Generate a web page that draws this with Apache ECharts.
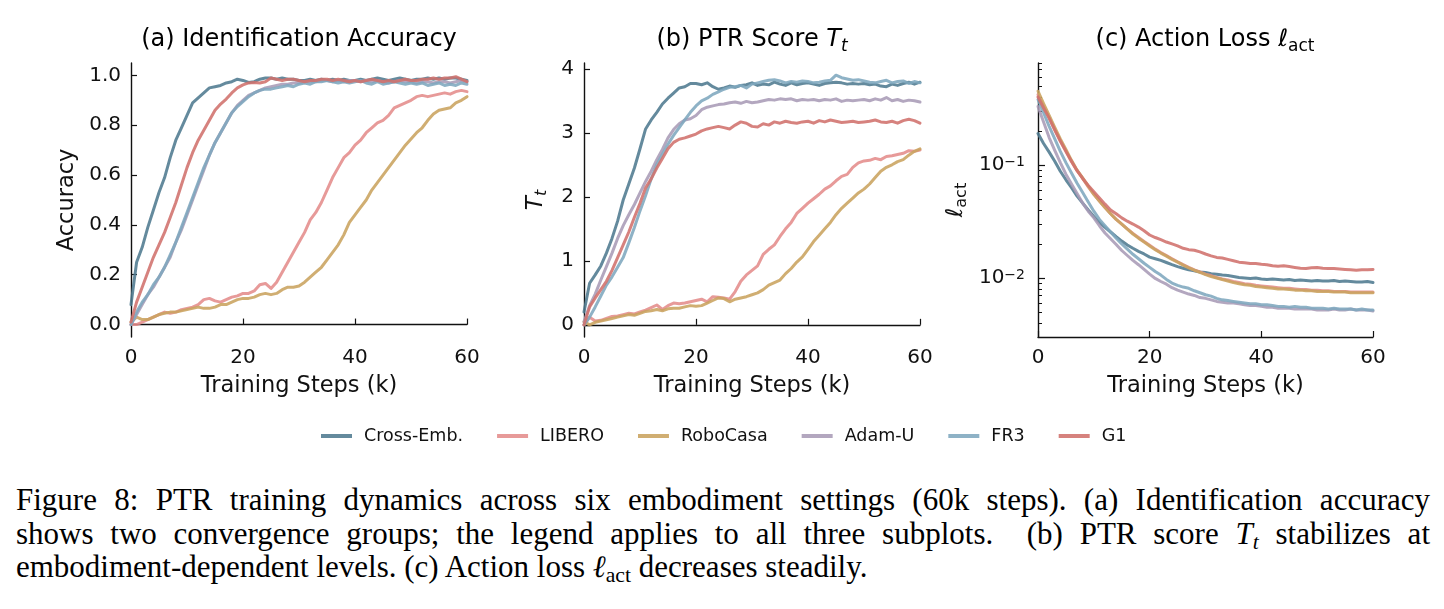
<!DOCTYPE html>
<html>
<head>
<meta charset="utf-8">
<title>PTR training dynamics</title>
<script src="https://cdn.jsdelivr.net/npm/echarts@6/dist/echarts.min.js"></script>
<style>
  html, body { margin: 0; padding: 0; background: #fff; }
  #wrap { position: relative; width: 1444px; height: 609px; overflow: hidden; }
  #chart { position: absolute; left: 0; top: 0; width: 1444px; height: 470px; }
  .cap { position: absolute; left: 16px; width: 1414px; font-family: "Liberation Serif", serif;
         font-size: 31px; line-height: 33.5px; color: #000; white-space: nowrap; }
  .just { text-align: justify; text-align-last: justify; }
  .cap sub { font-size: 70%; vertical-align: -0.25em; line-height: 0; }
</style>
</head>
<body>
<div id="wrap">
  <div id="chart"></div>
  <div class="cap just" style="top:483px">Figure 8: PTR training dynamics across six embodiment settings (60k steps). (a) Identification accuracy</div>
  <div class="cap just" style="top:517px">shows two convergence groups; the legend applies to all three subplots.&nbsp; (b) PTR score <i>T<sub>t</sub></i> stabilizes at</div>
  <div class="cap" style="top:550px">embodiment-dependent levels. (c) Action loss <i>ℓ</i><sub>act</sub> decreases steadily.</div>
</div>
<script>
// training steps (k)
var steps = [0,1,2,3,4,5,6,7,8,9,10,11,12,13,14,15,16,17,18,19,20,21,22,23,24,25,26,27,28,29,30,
  31,32,33,34,35,36,37,38,39,40,41,42,43,44,45,46,47,48,49,50,51,52,53,54,55,56,57,58,59,60];
var names = ['Cross-Emb.', 'LIBERO', 'RoboCasa', 'Adam-U', 'FR3', 'G1'];
var colors = ['#4f7a8f', '#e48c8b', '#c9a35e', '#a99bb6', '#7ea7be', '#d0716c'];

// (a) identification accuracy
var accCross = [0.08,0.25,0.31,0.39,0.46,0.53,0.59,0.67,0.74,0.79,0.84,0.89,0.91,0.93,0.95,0.955,0.96,0.97,0.975,0.985,0.98,
  0.972,0.975,0.985,0.99,0.99,0.985,0.99,0.985,0.985,0.98,0.98,0.985,0.98,0.985,0.98,0.985,0.98,0.985,0.98,0.98,
  0.985,0.98,0.985,0.99,0.985,0.98,0.985,0.99,0.985,0.98,0.985,0.985,0.99,0.985,0.99,0.985,0.99,0.99,0.985,0.98];
var accLibero = [0,0,0.01,0.02,0.03,0.04,0.05,0.045,0.05,0.06,0.065,0.07,0.08,0.1,0.105,0.095,0.09,0.1,0.11,0.115,0.125,
  0.125,0.135,0.16,0.165,0.145,0.17,0.21,0.25,0.29,0.33,0.37,0.42,0.45,0.49,0.54,0.59,0.63,0.67,0.69,0.72,
  0.74,0.77,0.79,0.81,0.82,0.84,0.87,0.88,0.89,0.9,0.915,0.92,0.915,0.92,0.925,0.93,0.925,0.935,0.94,0.935];
var accRobo = [0.01,0.03,0.02,0.02,0.03,0.04,0.045,0.05,0.05,0.055,0.06,0.065,0.07,0.065,0.065,0.07,0.08,0.08,0.09,0.1,0.105,
  0.105,0.11,0.12,0.125,0.12,0.125,0.14,0.15,0.15,0.155,0.17,0.19,0.21,0.23,0.26,0.29,0.32,0.36,0.41,0.44,
  0.47,0.5,0.54,0.57,0.6,0.63,0.66,0.69,0.72,0.745,0.77,0.79,0.82,0.845,0.86,0.865,0.87,0.89,0.9,0.915];
var accAdam = [0,0.04,0.08,0.12,0.15,0.19,0.23,0.27,0.33,0.38,0.44,0.5,0.56,0.62,0.68,0.73,0.77,0.81,0.85,0.88,0.9,
  0.92,0.93,0.94,0.95,0.955,0.96,0.965,0.965,0.97,0.97,0.975,0.975,0.975,0.98,0.98,0.975,0.98,0.975,0.98,0.98,
  0.975,0.98,0.975,0.98,0.975,0.97,0.975,0.98,0.975,0.975,0.97,0.975,0.975,0.97,0.975,0.975,0.97,0.975,0.98,0.975];
var accFr3 = [0,0.05,0.09,0.12,0.16,0.19,0.23,0.28,0.33,0.39,0.45,0.51,0.57,0.63,0.68,0.73,0.77,0.81,0.85,0.875,0.895,
  0.915,0.93,0.94,0.945,0.945,0.95,0.955,0.96,0.955,0.965,0.97,0.965,0.975,0.975,0.98,0.975,0.97,0.975,0.97,0.975,
  0.98,0.97,0.965,0.975,0.965,0.97,0.975,0.97,0.965,0.97,0.965,0.97,0.96,0.965,0.97,0.96,0.965,0.96,0.97,0.965];
var accG1 = [0.01,0.09,0.15,0.21,0.27,0.32,0.37,0.43,0.49,0.56,0.63,0.69,0.74,0.78,0.82,0.86,0.885,0.905,0.93,0.95,0.962,
  0.97,0.972,0.97,0.975,0.99,0.985,0.98,0.985,0.985,0.98,0.975,0.98,0.98,0.985,0.985,0.98,0.985,0.98,0.975,0.98,
  0.975,0.98,0.985,0.98,0.975,0.98,0.975,0.98,0.985,0.98,0.98,0.985,0.985,0.99,0.985,0.99,0.99,0.995,0.985,0.975];

// (b) PTR score T_t
var ptrCross = [0.2,0.65,0.78,0.92,1.12,1.35,1.62,1.95,2.2,2.45,2.75,3.06,3.2,3.32,3.45,3.54,3.62,3.7,3.72,3.77,3.77,
  3.75,3.78,3.72,3.68,3.7,3.73,3.71,3.74,3.75,3.78,3.74,3.76,3.75,3.79,3.76,3.74,3.78,3.75,3.77,3.78,
  3.76,3.74,3.77,3.78,3.79,3.78,3.76,3.77,3.76,3.77,3.75,3.76,3.73,3.72,3.76,3.74,3.77,3.79,3.76,3.79];
var ptrLibero = [0,0.12,0.06,0.07,0.1,0.13,0.14,0.16,0.18,0.17,0.2,0.23,0.27,0.31,0.24,0.3,0.34,0.33,0.34,0.36,0.38,
  0.4,0.36,0.44,0.43,0.42,0.4,0.52,0.68,0.78,0.85,0.92,1.1,1.18,1.25,1.38,1.5,1.6,1.74,1.82,1.9,
  1.97,2.04,2.12,2.17,2.25,2.32,2.35,2.46,2.53,2.56,2.57,2.6,2.58,2.63,2.64,2.66,2.68,2.72,2.71,2.73];
var ptrRobo = [0.05,0,0.04,0.06,0.08,0.1,0.12,0.14,0.16,0.15,0.18,0.21,0.22,0.24,0.22,0.25,0.26,0.26,0.28,0.3,0.29,
  0.3,0.34,0.38,0.42,0.41,0.36,0.4,0.42,0.44,0.47,0.5,0.55,0.62,0.66,0.7,0.8,0.88,0.98,1.06,1.18,
  1.3,1.4,1.5,1.6,1.72,1.82,1.9,1.98,2.06,2.12,2.2,2.3,2.4,2.46,2.5,2.55,2.58,2.65,2.71,2.75];
var ptrAdam = [0.05,0.3,0.48,0.7,0.91,1.12,1.35,1.55,1.72,1.88,2.06,2.24,2.4,2.58,2.74,2.92,3.05,3.14,3.2,3.22,3.27,
  3.36,3.4,3.42,3.44,3.45,3.47,3.48,3.46,3.49,3.47,3.48,3.5,3.52,3.51,3.53,3.52,3.53,3.5,3.52,3.51,
  3.52,3.5,3.52,3.51,3.53,3.49,3.51,3.5,3.51,3.52,3.5,3.53,3.51,3.55,3.5,3.52,3.49,3.51,3.5,3.48];
var ptrFr3 = [0,0.12,0.28,0.45,0.62,0.75,0.9,1.05,1.28,1.52,1.78,2.02,2.28,2.5,2.66,2.82,2.96,3.08,3.2,3.32,3.42,
  3.5,3.54,3.6,3.64,3.68,3.71,3.72,3.74,3.7,3.76,3.78,3.8,3.82,3.83,3.81,3.78,3.8,3.79,3.81,3.8,
  3.78,3.79,3.81,3.82,3.9,3.86,3.84,3.82,3.83,3.81,3.79,3.78,3.8,3.82,3.78,3.8,3.81,3.77,3.8,3.78];
var ptrG1 = [0,0.28,0.42,0.55,0.68,0.85,1.05,1.25,1.45,1.68,1.9,2.14,2.28,2.45,2.6,2.75,2.85,2.9,2.92,2.95,2.98,
  3.03,3.06,3.08,3.1,3.08,3.06,3.12,3.17,3.15,3.1,3.09,3.14,3.12,3.17,3.15,3.18,3.16,3.15,3.17,3.18,
  3.15,3.19,3.17,3.2,3.18,3.16,3.17,3.18,3.16,3.17,3.18,3.2,3.17,3.16,3.18,3.15,3.19,3.21,3.19,3.15];

// (c) action loss l_act
var lossCross = [0.19,0.155,0.13,0.108,0.088,0.074,0.063,0.053,0.046,0.04,0.035,0.031,0.028,0.0255,0.0232,0.0212,0.0196,0.0183,0.0172,0.0163,0.0153,
  0.0148,0.0143,0.0137,0.0131,0.0126,0.0122,0.0118,0.0116,0.0113,0.0112,0.0109,0.0108,0.0106,0.0105,0.0103,0.0101,0.01,0.0099,0.01,0.0098,
  0.0097,0.0098,0.0097,0.0096,0.0097,0.0095,0.0096,0.0095,0.0094,0.0095,0.0094,0.0094,0.0095,0.0093,0.0094,0.0093,0.0092,0.0092,0.0093,0.0091];
var lossLibero = [0.42,0.33,0.26,0.205,0.163,0.132,0.107,0.089,0.076,0.064,0.055,0.048,0.042,0.037,0.033,0.03,0.0272,0.0248,0.0228,0.021,0.0195,
  0.018,0.0168,0.0158,0.0148,0.0139,0.0131,0.0124,0.0118,0.0113,0.0108,0.0105,0.0101,0.0098,0.0096,0.0093,0.0091,0.0089,0.0088,0.0086,0.0085,
  0.0084,0.0083,0.0082,0.0081,0.0081,0.008,0.0079,0.0079,0.0078,0.0078,0.0077,0.0077,0.0076,0.0076,0.0076,0.0075,0.0075,0.0075,0.0075,0.0075];
var lossRobo = [0.45,0.35,0.275,0.215,0.17,0.137,0.11,0.09,0.077,0.065,0.055,0.048,0.042,0.037,0.033,0.03,0.027,0.0245,0.0225,0.0208,0.0192,
  0.0178,0.0166,0.0156,0.0146,0.0138,0.013,0.0123,0.0117,0.0112,0.0107,0.0103,0.01,0.0097,0.0094,0.0091,0.0089,0.0087,0.0086,0.0084,0.0083,
  0.0082,0.0081,0.008,0.008,0.0079,0.0078,0.0078,0.0077,0.0077,0.0076,0.0076,0.0076,0.0075,0.0075,0.0075,0.0074,0.0074,0.0074,0.0074,0.0074];
var lossAdam = [0.33,0.24,0.175,0.135,0.105,0.083,0.068,0.056,0.046,0.039,0.034,0.029,0.025,0.0222,0.0198,0.0175,0.0158,0.0143,0.0131,0.0119,0.0108,
  0.0099,0.0093,0.0088,0.0082,0.0078,0.0075,0.0072,0.007,0.0067,0.0066,0.0064,0.0062,0.0061,0.006,0.006,0.0059,0.0058,0.0057,0.0057,0.0056,
  0.0055,0.0055,0.0054,0.0054,0.0054,0.0053,0.0053,0.0053,0.0053,0.0052,0.0052,0.0052,0.0053,0.0052,0.0052,0.0053,0.0052,0.0052,0.0052,0.0051];
var lossFr3 = [0.38,0.29,0.22,0.17,0.132,0.105,0.085,0.069,0.057,0.047,0.039,0.033,0.029,0.0255,0.0225,0.02,0.018,0.0162,0.0148,0.0135,0.0124,
  0.0114,0.0106,0.0097,0.009,0.0086,0.0083,0.0081,0.0077,0.0074,0.0071,0.0069,0.0066,0.0064,0.0063,0.0062,0.0061,0.006,0.0059,0.0059,0.0058,
  0.0058,0.0057,0.0056,0.0056,0.0055,0.0056,0.0055,0.0055,0.0054,0.0054,0.0054,0.0053,0.0054,0.0053,0.0053,0.0053,0.0052,0.0053,0.0052,0.0052];
var lossG1 = [0.4,0.32,0.26,0.205,0.163,0.132,0.108,0.089,0.076,0.066,0.058,0.051,0.045,0.04,0.037,0.034,0.0318,0.03,0.0282,0.0262,0.024,
  0.0228,0.0218,0.0208,0.02,0.0192,0.0183,0.0178,0.0176,0.017,0.0163,0.0157,0.0152,0.015,0.0146,0.0142,0.0138,0.0136,0.0134,0.0134,0.0132,
  0.0131,0.0128,0.0127,0.0128,0.0126,0.0124,0.0122,0.0121,0.0123,0.0124,0.0122,0.0121,0.0121,0.012,0.0119,0.0118,0.0117,0.0118,0.0118,0.0119];

// tick values
var stepTicks = [0, 20, 40, 60];
var accTicks = [0, 0.2, 0.4, 0.6, 0.8, 1.0];
var ptrTicks = [0, 1, 2, 3, 4];
var lossTicks = [0.01, 0.1];
var lossMinor = [0.003,0.004,0.005,0.006,0.007,0.008,0.009,0.02,0.03,0.04,0.05,0.06,0.07,0.08,0.09,0.2,0.3,0.4,0.5,0.6,0.7,0.8];

var panels = [
  [accCross, accLibero, accRobo, accAdam, accFr3, accG1],
  [ptrCross, ptrLibero, ptrRobo, ptrAdam, ptrFr3, ptrG1],
  [lossCross, lossLibero, lossRobo, lossAdam, lossFr3, lossG1]
];

var FONT = '"DejaVu Sans", sans-serif';
var INK = '#111';
var gridLefts = [131, 584, 1038];

function pairs(ys) {
  return steps.map(function (s, i) { return [s, ys[i]]; });
}

var chart = echarts.init(document.getElementById('chart'));

var grids = gridLefts.map(function (l, i) {
  return { left: l, top: 63, width: i === 2 ? 335 : 336, height: 274 };
});

var xAxes = [0, 1, 2].map(function (g) {
  return {
    type: 'value', gridIndex: g, min: 0, max: 60, interval: 20,
    name: 'Training Steps (k)', nameLocation: 'middle', nameGap: 38,
    nameTextStyle: { fontFamily: FONT, fontSize: 22.5, color: INK },
    axisLine: { lineStyle: { color: '#111', width: 1.4 } },
    axisTick: { inside: true, length: 6, customValues: stepTicks, lineStyle: { color: '#111', width: 1.2 } },
    axisLabel: { fontFamily: FONT, fontSize: 20, color: INK, margin: 11 },
    splitLine: { show: false }
  };
});

var yCommon = {
  position: 'left',
  axisLine: { show: true, lineStyle: { color: '#111', width: 1.4 } },
  splitLine: { show: false },
  nameLocation: 'middle'
};

var yAxes = [
  Object.assign({}, yCommon, {
    type: 'value', gridIndex: 0, min: -0.05, max: 1.05,
    name: 'Accuracy', nameGap: 52,
    nameTextStyle: { fontFamily: FONT, fontSize: 22.5, color: INK },
    axisTick: { inside: true, length: 6, customValues: accTicks, lineStyle: { color: '#111', width: 1.2 } },
    axisLabel: { customValues: accTicks, fontFamily: FONT, fontSize: 20, color: INK, margin: 10,
      formatter: function (v) { return v.toFixed(1); } }
  }),
  Object.assign({}, yCommon, {
    type: 'value', gridIndex: 1, min: -0.19, max: 4.09,
    name: '{it|T}{sub|t}', nameGap: 34,
    nameTextStyle: { fontFamily: FONT, color: INK, rich: {
      it: { fontFamily: FONT, fontSize: 23, fontStyle: 'italic', color: INK, lineHeight: 28, verticalAlign: 'middle' },
      sub: { fontFamily: FONT, fontSize: 16, fontStyle: 'italic', color: INK, lineHeight: 16, verticalAlign: 'bottom' }
    } },
    axisTick: { inside: true, length: 6, customValues: ptrTicks, lineStyle: { color: '#111', width: 1.2 } },
    axisLabel: { customValues: ptrTicks, fontFamily: FONT, fontSize: 20, color: INK, margin: 10 }
  }),
  Object.assign({}, yCommon, {
    type: 'log', logBase: 10, gridIndex: 2, min: 0.003, max: 0.8,
    name: '{it|ℓ}{sub|act}', nameGap: 68,
    nameTextStyle: { fontFamily: FONT, color: INK, rich: {
      it: { fontFamily: FONT, fontSize: 23, fontStyle: 'italic', color: INK, lineHeight: 28, verticalAlign: 'middle' },
      sub: { fontFamily: FONT, fontSize: 16, color: INK, lineHeight: 16, verticalAlign: 'bottom' }
    } },
    axisTick: { inside: true, length: 7, customValues: lossTicks, lineStyle: { color: '#111', width: 1.2 } },
    axisLabel: { customValues: lossTicks, color: INK, margin: 13,
      formatter: function (v) {
        var e = Math.round(Math.log(v) / Math.LN10);
        return '{b|10}{s|\u2212' + (-e) + '}';
      },
      rich: {
        b: { fontFamily: FONT, fontSize: 20, color: INK, lineHeight: 20, padding: [4, 0, 0, 0], verticalAlign: 'bottom' },
        s: { fontFamily: FONT, fontSize: 14, color: INK, lineHeight: 14, verticalAlign: 'top' }
      } }
  }),
  // minor ticks of the log axis, on the same left spine
  {
    type: 'log', logBase: 10, gridIndex: 2, min: 0.003, max: 0.8,
    position: 'left', offset: 0,
    axisLine: { show: false }, splitLine: { show: false },
    axisLabel: { show: false },
    axisTick: { inside: true, length: 4, customValues: lossMinor, lineStyle: { color: '#111', width: 1 } }
  }
];

var series = [];
panels.forEach(function (sets, p) {
  sets.forEach(function (ys, i) {
    series.push({
      name: names[i], type: 'line', xAxisIndex: p, yAxisIndex: p,
      data: pairs(ys), showSymbol: false, symbol: 'none', smooth: false,
      z: 2 + i,
      lineStyle: { color: colors[i], width: 3, opacity: 0.88, cap: 'round', join: 'round' },
      itemStyle: { color: colors[i], opacity: 0.88 }
    });
  });
});

var titleRich = {
  n: { fontFamily: FONT, fontSize: 24, color: INK, lineHeight: 30, verticalAlign: 'middle' },
  it: { fontFamily: FONT, fontSize: 24, fontStyle: 'italic', color: INK, lineHeight: 30, verticalAlign: 'middle' },
  sub: { fontFamily: FONT, fontSize: 17, fontStyle: 'italic', color: INK, lineHeight: 17, verticalAlign: 'bottom' },
  subr: { fontFamily: FONT, fontSize: 17, color: INK, lineHeight: 17, verticalAlign: 'bottom' }
};
var titles = [
  { x: 299, text: '{n|(a) Identification Accuracy}' },
  { x: 752, text: '{n|(b) PTR Score }{it|T}{sub|t}' },
  { x: 1205, text: '{n|(c) Action Loss }{it|ℓ}{subr|act}' }
];

var option = {
  animation: false,
  backgroundColor: '#fff',
  grid: grids,
  xAxis: xAxes,
  yAxis: yAxes,
  legend: {
    data: names, left: 316, top: 422, icon: 'rect', itemWidth: 31, itemHeight: 4, itemGap: 34,
    textStyle: { fontFamily: FONT, fontSize: 17.5, color: INK, padding: [0, 0, 0, 7] },
    selectedMode: false
  },
  graphic: titles.map(function (t) {
    return {
      type: 'text', x: t.x, y: 40, silent: true,
      style: { text: t.text, align: 'center', verticalAlign: 'middle', rich: titleRich }
    };
  }),
  series: series
};

chart.setOption(option);
</script>
</body>
</html>
